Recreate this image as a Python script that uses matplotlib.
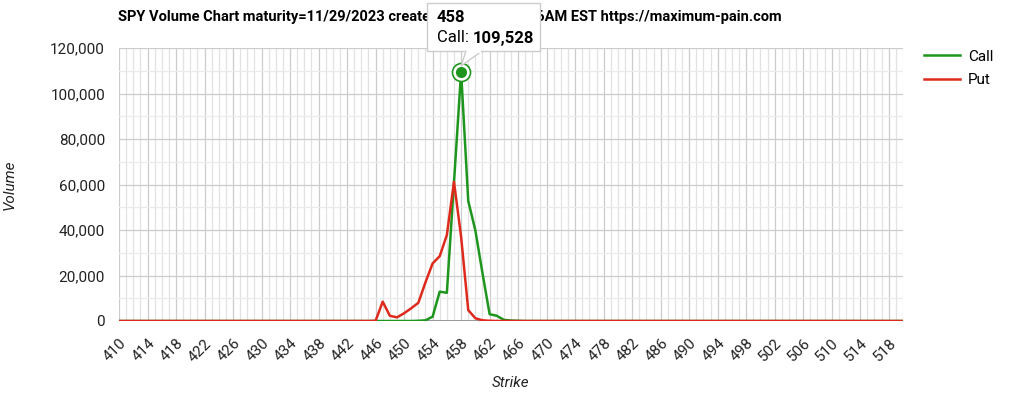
"""SPY volume chart (calls vs puts by strike), maximum-pain.com style."""
import matplotlib

matplotlib.use("Agg")
import matplotlib.pyplot as plt
from matplotlib.patches import Polygon, Rectangle
from matplotlib.ticker import FuncFormatter, MultipleLocator

plt.rcParams["font.family"] = ["Roboto", "DejaVu Sans"]

strikes = list(range(410, 521))

call_volume = [
    0, 0, 0, 0, 0, 0, 0, 0, 0, 0,            # 410-419
    0, 0, 0, 0, 0, 0, 0, 0, 0, 0,            # 420-429
    0, 0, 0, 0, 0, 0, 0, 0, 0, 0,            # 430-439
    0, 0, 0, 0, 0, 0, 0, 0, 0, 0,            # 440-449
    0, 0, 100, 300, 1900, 12900, 12400, 60900, 109528, 52800,  # 450-459
    39800, 21000, 3000, 2300, 500, 200, 100, 0, 0, 0,          # 460-469
    0, 0, 0, 0, 0, 0, 0, 0, 0, 0,            # 470-479
    0, 0, 0, 0, 0, 0, 0, 0, 0, 0,            # 480-489
    0, 0, 0, 0, 0, 0, 0, 0, 0, 0,            # 490-499
    0, 0, 0, 0, 0, 0, 0, 0, 0, 0,            # 500-509
    0, 0, 0, 0, 0, 0, 0, 0, 0, 0,            # 510-519
    0,                                       # 520
]

put_volume = [
    0, 0, 0, 0, 0, 0, 0, 0, 0, 0,            # 410-419
    0, 0, 0, 0, 0, 0, 0, 0, 0, 0,            # 420-429
    0, 0, 0, 0, 0, 0, 0, 0, 0, 0,            # 430-439
    0, 0, 0, 0, 0, 0, 100, 8500, 2300, 1600,  # 440-449
    3400, 5600, 8000, 17000, 25300, 28500, 37800, 61200, 37000, 4800,  # 450-459
    1200, 300, 100, 0, 0, 0, 0, 0, 0, 0,     # 460-469
    0, 0, 0, 0, 0, 0, 0, 0, 0, 0,            # 470-479
    0, 0, 0, 0, 0, 0, 0, 0, 0, 0,            # 480-489
    0, 0, 0, 0, 0, 0, 0, 0, 0, 0,            # 490-499
    0, 0, 0, 0, 0, 0, 0, 0, 0, 0,            # 500-509
    0, 0, 0, 0, 0, 0, 0, 0, 0, 0,            # 510-519
    0,                                       # 520
]

x_ticks = list(range(410, 519, 4))

TITLE = ("SPY Volume Chart maturity=11/29/2023 created 11/29/23 10:16AM EST "
         "https://maximum-pain.com")
HIGHLIGHT_STRIKE = 458

GREEN = "#1e961e"
RED = "#de2a1c"

W, H = 1024, 399


def fx(px):
    return px / W


def fy(py):
    return 1 - py / H


fig = plt.figure(figsize=(W / 100, H / 100), dpi=100)
ax = fig.add_axes([fx(119), fy(321), fx(903) - fx(119), fy(48) - fy(321)])

ax.plot(strikes, call_volume, color=GREEN, lw=1.8, label="Call", zorder=3)
ax.plot(strikes, put_volume, color=RED, lw=1.8, label="Put", zorder=4)
ax.axhline(0, color="#888888", lw=1.2, zorder=2)

# highlighted point
hi = strikes.index(HIGHLIGHT_STRIKE)
ax.plot(strikes[hi], call_volume[hi], "o", ms=13, mfc="white", mec=GREEN,
        mew=1.2, zorder=5)
ax.plot(strikes[hi], call_volume[hi], "o", ms=7, mfc=GREEN, mec=GREEN, zorder=6)

ax.set_xlim(410, 520)
ax.set_ylim(0, 120000)
ax.yaxis.set_major_locator(MultipleLocator(20000))
ax.yaxis.set_minor_locator(MultipleLocator(10000))
ax.set_xticks(x_ticks, labels=[str(t) for t in x_ticks])
ax.set_xticks([s for s in strikes if s not in x_ticks], minor=True)
ax.grid(which="major", color="#cccccc", lw=0.9, zorder=0)
ax.grid(which="minor", axis="y", color="#ebebeb", lw=0.9, zorder=0)
ax.grid(which="minor", axis="x", color="#e2e2e2", lw=0.9, zorder=0)
ax.set_axisbelow(True)
for s in ax.spines.values():
    s.set_visible(False)
ax.tick_params(which="both", length=0)

for t in ax.get_xticklabels():
    t.set_rotation(45)
    t.set_ha("right")
    t.set_rotation_mode("anchor")
    t.set_fontsize(11)
    t.set_color("#222222")
ax.tick_params(axis="x", pad=11)
ax.yaxis.set_major_formatter(FuncFormatter(lambda v, p: f"{int(v):,}"))
ax.tick_params(axis="y", labelsize=11, labelcolor="#222222", pad=10)

ax.set_xlabel("Strike", fontsize=11, style="italic", color="#222222", labelpad=8)
ax.set_ylabel("Volume", fontsize=11, style="italic", color="#222222", labelpad=24)

fig.text(fx(118), fy(17), TITLE, fontsize=10.5, fontweight="bold",
         ha="left", va="center", color="#000000")

leg = fig.legend(loc="upper left", bbox_to_anchor=(fx(910), fy(36)),
                 frameon=False, fontsize=11, handlelength=2.4,
                 handletextpad=0.5, labelspacing=0.6)

# tooltip box with tail pointing at the highlighted point
box_l, box_r, box_t, box_b = 427, 540, 3, 51
fig.patches.append(Rectangle((fx(box_l), fy(box_b)), fx(box_r) - fx(box_l),
                             fy(box_t) - fy(box_b), transform=fig.transFigure,
                             facecolor="white", edgecolor="#cccccc", lw=1, zorder=10))
fig.patches.append(Polygon([(fx(466), fy(box_b)), (fx(461), fy(66)), (fx(482), fy(box_b))],
                           closed=False, transform=fig.transFigure, facecolor="white",
                           edgecolor="#cccccc", lw=1, zorder=10))
fig.patches.append(Rectangle((fx(466.8), fy(box_b + 1.5)), fx(481) - fx(466.8),
                             fy(box_b - 2) - fy(box_b + 1.5), transform=fig.transFigure,
                             facecolor="white", edgecolor="none", zorder=11))
fig.text(fx(437), fy(18), str(HIGHLIGHT_STRIKE), fontsize=12, fontweight="bold",
         ha="left", va="center", zorder=12)
t1 = fig.text(fx(437), fy(38), "Call: ", fontsize=12, ha="left", va="center", zorder=12)
fig.canvas.draw()
bb = t1.get_window_extent()
fig.text(bb.x1 / W, fy(38), f"{call_volume[hi]:,}", fontsize=12, fontweight="bold",
         ha="left", va="center", zorder=12)

fig.savefig("out.png", dpi=100)
